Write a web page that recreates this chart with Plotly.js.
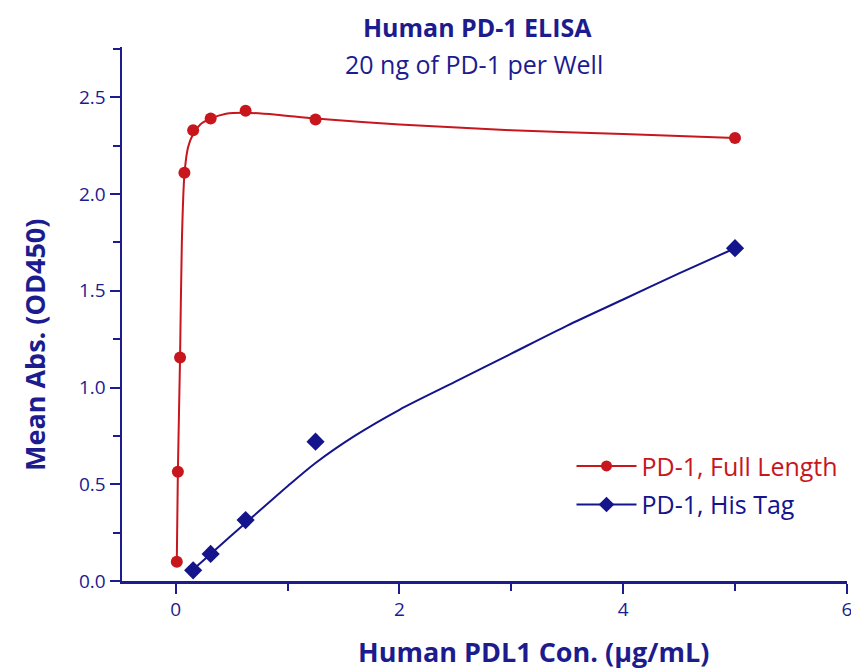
<!DOCTYPE html>
<html>
<head>
<meta charset="utf-8">
<script src="https://cdn.plot.ly/plotly-3.0.1.min.js"></script>
<style>html,body{margin:0;padding:0;background:#fff;}#chart{width:851px;height:672px;}</style>
</head>
<body>
<div id="chart"></div>
<script>
// Measured data points
const fullLenX = [0.0098, 0.0195, 0.039, 0.078, 0.156, 0.3125, 0.625, 1.25, 5];
const fullLenY = [0.10, 0.565, 1.155, 2.11, 2.33, 2.39, 2.43, 2.385, 2.29];
const hisTagX = [0.156, 0.3125, 0.625, 1.25, 5];
const hisTagY = [0.055, 0.14, 0.315, 0.72, 1.72];

// Fitted curves
const fullFitX = [0.0098, 0.0195, 0.039, 0.055, 0.078, 0.11, 0.156, 0.22, 0.3125, 0.45, 0.625, 0.9, 1.25, 2, 3, 4, 5];
const fullFitY = [0.10, 0.565, 1.155, 1.75, 2.10, 2.24, 2.31, 2.36, 2.39, 2.415, 2.42, 2.41, 2.39, 2.36, 2.33, 2.31, 2.29];
const hisFitX = [0.156, 0.3125, 0.625, 1.0, 1.25, 1.6, 2.0, 2.5, 3.0, 3.5, 4.0, 4.5, 5.0];
const hisFitY = [0.06, 0.14, 0.30, 0.49, 0.61, 0.75, 0.885, 1.03, 1.175, 1.32, 1.455, 1.59, 1.72];

const xTicks = [0, 2, 4, 6];
const yTicks = [0.0, 0.5, 1.0, 1.5, 2.0, 2.5];
const yTickText = ['0.0', '0.5', '1.0', '1.5', '2.0', '2.5'];

const seriesNames = ['PD-1, Full Length', 'PD-1, His Tag'];
const titleText = 'Human PD-1 ELISA';
const subtitleText = '20 ng of PD-1 per Well';
const xTitle = 'Human PDL1 Con. (μg/mL)';
const yTitle = 'Mean Abs. (OD450)';

const RED = '#c8161d';
const BLUE = '#14148c';
const NAVY = '#1c1c8e';
const FONT = '"Open Sans", Lato, sans-serif';

const traces = [
  {x: fullFitX, y: fullFitY, mode: 'lines', line: {color: RED, width: 2, shape: 'spline', smoothing: 0.8}, showlegend: false, hoverinfo: 'skip'},
  {x: hisFitX, y: hisFitY, mode: 'lines', line: {color: BLUE, width: 2, shape: 'spline', smoothing: 0.8}, showlegend: false, hoverinfo: 'skip'},
  {x: fullLenX, y: fullLenY, mode: 'markers', marker: {symbol: 'circle', size: 12, color: RED}, showlegend: false},
  {x: hisTagX, y: hisTagY, mode: 'markers', marker: {symbol: 'diamond', size: 14, color: BLUE}, showlegend: false},
  {x: [null], y: [null], mode: 'lines+markers', name: '<span style="color:' + RED + '">' + seriesNames[0] + '</span>',
   line: {color: RED, width: 2}, marker: {symbol: 'circle', size: 11, color: RED}, legendgroup: 'a'},
  {x: [null], y: [null], mode: 'lines+markers', name: '<span style="color:' + BLUE + '">' + seriesNames[1] + '</span>',
   line: {color: BLUE, width: 2}, marker: {symbol: 'diamond', size: 12, color: BLUE}, legendgroup: 'b'}
];

const axisCommon = {
  showline: true, linecolor: NAVY, linewidth: 2.5,
  ticks: 'outside', tickcolor: NAVY, tickwidth: 2, ticklen: 10,
  showgrid: false, zeroline: false, ticklabeloverflow: 'allow',
  tickfont: {family: FONT, size: 19, color: NAVY}
};

const layout = {
  width: 851, height: 672,
  margin: {l: 122, r: 4, t: 47, b: 91},
  paper_bgcolor: '#fff', plot_bgcolor: '#fff',
  font: {family: FONT, color: NAVY},
  title: {text: '<b>' + titleText + '</b>', font: {family: FONT, size: 25, color: NAVY},
          x: 0.49, xref: 'paper', xanchor: 'center', y: 1 - 28 / 672, yref: 'container', yanchor: 'middle'},
  annotations: [
    {text: subtitleText, xref: 'paper', yref: 'paper', x: 0.485, y: (581 - 64) / 534, xanchor: 'center', yanchor: 'middle',
     showarrow: false, font: {family: FONT, size: 25, color: NAVY}},
    {text: '<b>' + xTitle + '</b>', xref: 'paper', yref: 'paper', x: (533 - 122) / 725, y: (581 - 651) / 534, xanchor: 'center', yanchor: 'middle',
     showarrow: false, font: {family: FONT, size: 27, color: NAVY}},
    {text: '<b>' + yTitle + '</b>', xref: 'paper', yref: 'paper', x: (34 - 122) / 725, y: (581 - 345) / 534, xanchor: 'center', yanchor: 'middle',
     textangle: -90, showarrow: false, font: {family: FONT, size: 27, color: NAVY}}
  ],
  xaxis: Object.assign({}, axisCommon, {
    range: [-0.48, 6.001], tickvals: xTicks, ticktext: xTicks.map(String),
    minor: {dtick: 1, tick0: 0, ticks: 'outside', ticklen: 7, tickcolor: NAVY, tickwidth: 2, showgrid: false}
  }),
  yaxis: Object.assign({}, axisCommon, {
    range: [0, 2.76], tickvals: yTicks, ticktext: yTickText,
    minor: {dtick: 0.25, tick0: 0, ticks: 'outside', ticklen: 7, tickcolor: NAVY, tickwidth: 2, showgrid: false}
  }),
  legend: {x: 0.62, y: 0.258, xanchor: 'left', yanchor: 'top', bgcolor: 'rgba(0,0,0,0)',
           font: {family: FONT, size: 25}, traceorder: 'grouped', tracegroupgap: 3, itemwidth: 60},
  showlegend: true
};

Plotly.newPlot('chart', traces, layout, {displayModeBar: false, staticPlot: true});
</script>
</body>
</html>
